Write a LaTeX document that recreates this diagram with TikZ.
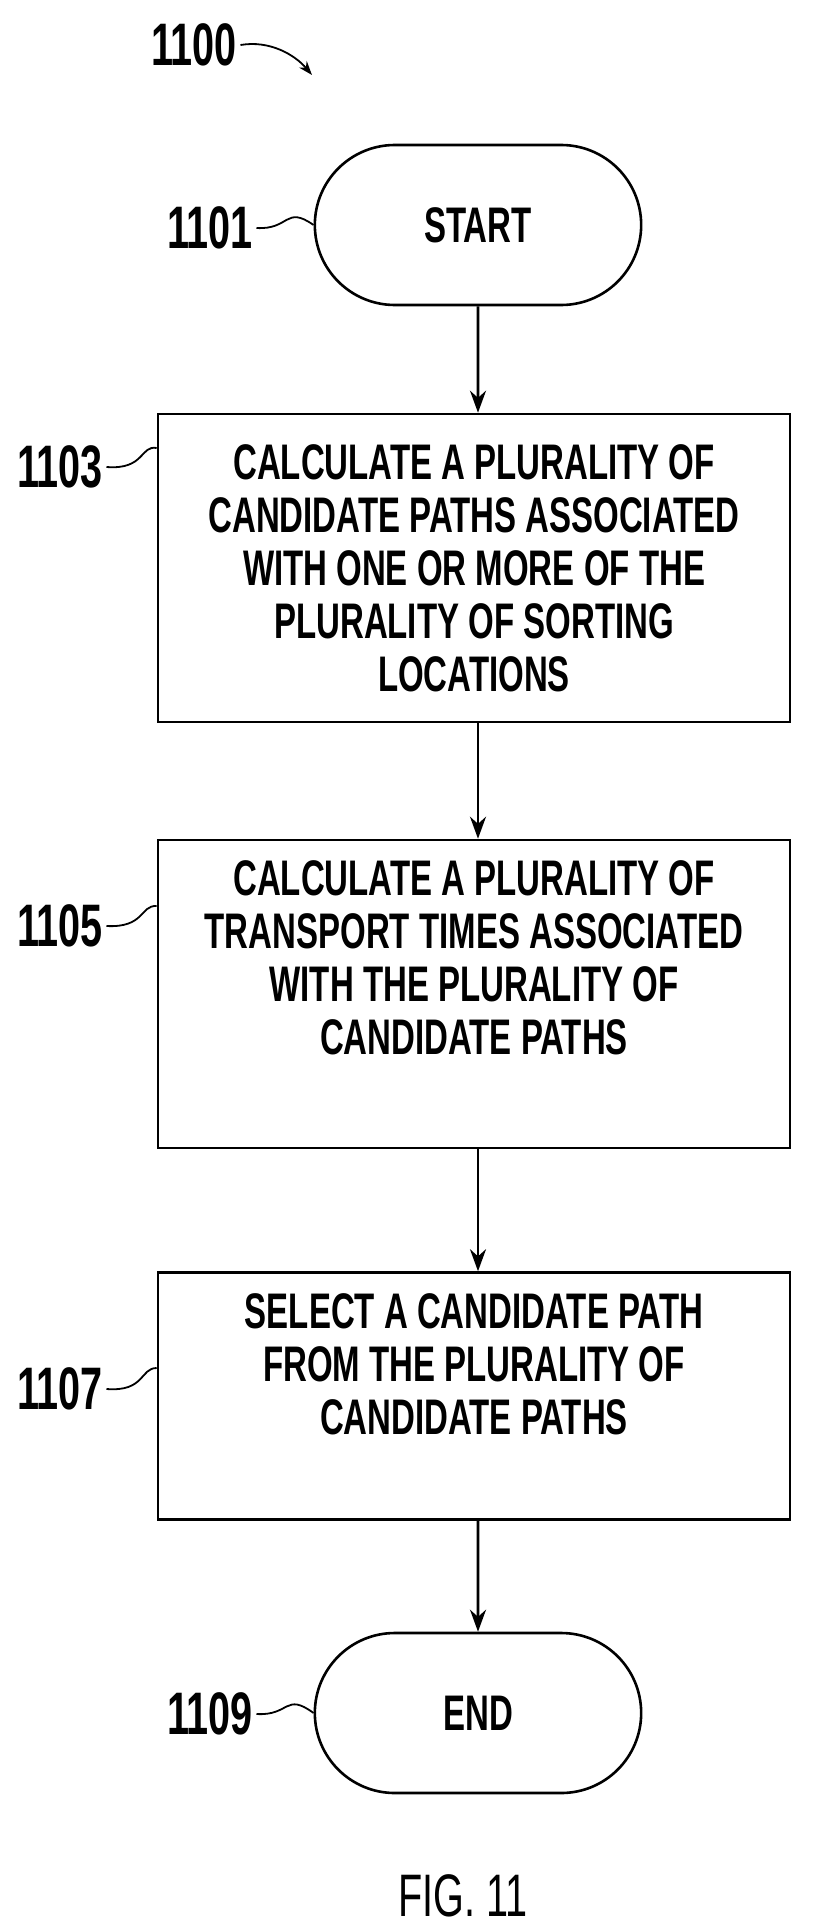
\documentclass[tikz,border=0pt]{standalone}
\usepackage{fontspec}
\setmainfont{Liberation Sans}[FakeStretch=0.66]
\usetikzlibrary{arrows.meta,shapes.misc}
\begin{document}
\begin{tikzpicture}[x=1pt,y=-1pt,
  lbl/.style={font=\fontsize{50}{53}\selectfont\bfseries, align=center},
  stepbox/.style={draw, line width=2.6pt, minimum width=632pt, lbl},
  term/.style={draw, line width=2.6pt, rounded rectangle, minimum width=333pt, minimum height=160pt, lbl},
  ref/.style={font=\fontsize{60}{60}\selectfont\bfseries},
  conn/.style={line width=2.6pt, -{Stealth[length=22pt,width=16pt]}},
  lead/.style={line width=1.8pt}]
\useasboundingbox (0,0) rectangle (815,1926);
\node[term] (s) at (478,225) {START};
\node[stepbox, minimum height=308pt] (b1) at (474,568) {CALCULATE A PLURALITY OF\\CANDIDATE PATHS ASSOCIATED\\WITH ONE OR MORE OF THE\\PLURALITY OF SORTING\\LOCATIONS};
\node[stepbox, minimum height=308pt] (b2) at (474,994) {CALCULATE A PLURALITY OF\\TRANSPORT TIMES ASSOCIATED\\WITH THE PLURALITY OF\\CANDIDATE PATHS\\[20pt]};
\node[stepbox, minimum height=247pt] (b3) at (474,1396) {SELECT A CANDIDATE PATH\\FROM THE PLURALITY OF\\CANDIDATE PATHS\\[10pt]};
\node[term] (e) at (478,1713) {END};
\draw[conn] (s) -- (s.south |- b1.north);
\draw[conn] (b1.south -| s) -- (b2.north -| s);
\draw[conn] (b2.south -| s) -- (b3.north -| s);
\draw[conn] (b3.south -| s) -- (e);
\node[ref] (r0) at (194,45) {1100};
\node[ref] (r1) at (210,228) {1101};
\node[ref] (r3) at (60,467) {1103};
\node[ref] (r5) at (60,926) {1105};
\node[ref] (r7) at (60,1389) {1107};
\node[ref] (r9) at (210,1714) {1109};
\coordinate (c0) at (312,75);
\draw[lead,-{Stealth[length=14pt,width=10pt]}] (r0.east) .. controls (270,40) and (295,55) .. (c0);
\draw[lead] (r1.east) .. controls (290,230) and (285,205) .. (s.west);
\draw[lead] (r3.east) .. controls (145,470) and (140,445) .. (b1.north west |- 0,448);
\draw[lead] (r5.east) .. controls (145,928) and (140,905) .. (b2.north west |- 0,906);
\draw[lead] (r7.east) .. controls (145,1392) and (140,1368) .. (b3.north west |- 0,1368);
\draw[lead] (r9.east) .. controls (290,1716) and (285,1692) .. (e.west);
\node[font=\fontsize{60}{60}\selectfont] (fig) at (463,1896) {FIG. 11};
\end{tikzpicture}
\end{document}
